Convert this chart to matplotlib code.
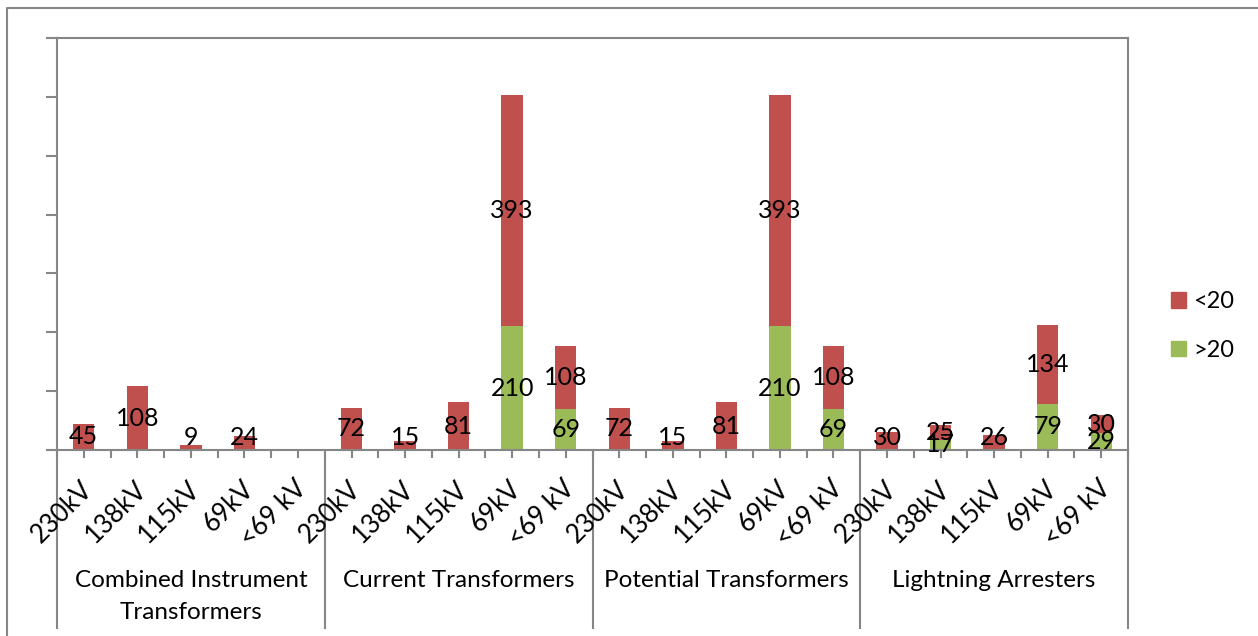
"""Stacked bars of equipment counts by voltage class and age."""

import matplotlib as mpl
import matplotlib.pyplot as plt
from matplotlib.lines import Line2D
from matplotlib.patches import Patch
import numpy as np

mpl.rc('font', family=['Lato', 'DejaVu Sans'])

# Chart data.
groups = [['Combined Instrument', 'Transformers'], ['Current Transformers'],
          ['Potential Transformers'], ['Lightning Arresters']]
voltages = ['230kV', '138kV', '115kV', '69kV', '<69 kV']
# Older than 20 years (bottom, green).
over_20 = [0, 0, 0, 0, 0,
           0, 0, 0, 210, 69,
           0, 0, 0, 210, 69,
           0, 17, 0, 79, 29]
# Younger than 20 years (top, red).
under_20 = [45, 108, 9, 24, 0,
            72, 15, 81, 393, 108,
            72, 15, 81, 393, 108,
            30, 25, 26, 134, 30]

RED = '#C0504D'
GREEN = '#9BBB59'
GRAY = '#868686'
W, H = 1258, 636

fig = plt.figure(figsize=(W / 100, H / 100), dpi=100, facecolor='white')
ax = fig.add_axes([57 / W, 1 - 450 / H, (1128 - 57) / W, (450 - 38) / H])

n = len(under_20)
x = np.arange(n) + 0.5
over = np.array(over_20)
under = np.array(under_20)
ax.bar(x, over, width=0.4, color=GREEN)
ax.bar(x, under, width=0.4, bottom=over, color=RED)

ax.set_xlim(0, n)
ax.set_ylim(0, 700)

# Data labels, centred in each segment but kept off the axis.
label_size = 18
for xi, g, r in zip(x, over, under):
    if g:
        ax.text(xi, g / 2, str(g), ha='center', va='center',
                fontsize=label_size)
    if r:
        y = g + r / 2
        if not g:
            y = max(y, 22)
        ax.text(xi, y, str(r), ha='center', va='center', fontsize=label_size)

# Axis styling, Excel look.
for side in ['left', 'right', 'top', 'bottom']:
    ax.spines[side].set_color(GRAY)
    ax.spines[side].set_linewidth(1.5)
ax.set_yticks(np.arange(0, 701, 100))
ax.set_yticklabels([])
ax.tick_params(axis='y', length=8, width=1.5, color=GRAY)
ax.set_xticks(np.arange(0, n + 0.1, 0.5))
ax.set_xticklabels([])
ax.tick_params(axis='x', length=6, width=1.5, color=GRAY)

# Multi-level category axis.
xtr = ax.get_xaxis_transform()
px = 1 / (450 - 38)  # one pixel in axes-fraction units
for b in range(0, n + 1, 5):
    ax.plot([b, b], [0, -178 * px], transform=xtr, clip_on=False,
            color=GRAY, lw=1.5)
for i, xi in enumerate(x):
    ax.text(xi + 0.1, -35 * px, voltages[i % 5], transform=xtr,
            rotation=45, rotation_mode='anchor', ha='right', va='center',
            fontsize=18.5)
for j, lines in enumerate(groups):
    for k, line in enumerate(lines):
        ax.text(5 * j + 2.5, -(137 + 32 * k) * px, line, transform=xtr,
                ha='center', va='baseline', fontsize=17.5)

# Legend.
handles = [Patch(color=RED, label='<20'), Patch(color=GREEN, label='>20')]
fig.legend(handles=handles, loc='center left',
           bbox_to_anchor=(1150 / W, 1 - 326 / H), frameon=False,
           fontsize=17, handlelength=0.62, handleheight=0.62,
           handletextpad=0.3, labelspacing=1.15)

# Chart frame.
fig.add_artist(Line2D([7 / W, 7 / W, 1], [0, 1 - 8 / H, 1 - 8 / H],
                      color=GRAY, lw=1.5))

plt.savefig('out.png', dpi=100, facecolor='white')
